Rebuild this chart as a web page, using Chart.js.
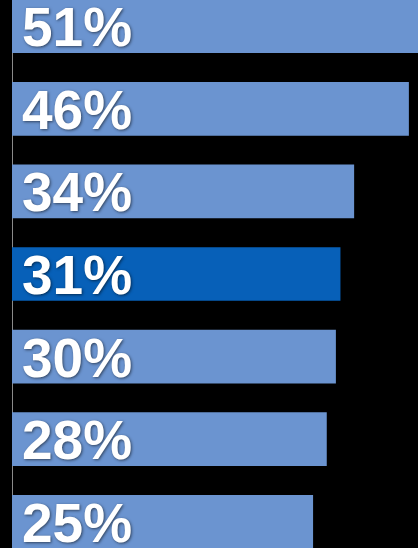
<!DOCTYPE html>
<html>
<head>
<meta charset="utf-8">
<script src="https://cdn.jsdelivr.net/npm/chart.js@4.4.1/dist/chart.umd.min.js"></script>
<style>
  html, body { margin: 0; padding: 0; background: #000; overflow: hidden; width: 418px; height: 548px; }
  #wrap { position: absolute; left: 0; top: -15px; width: 418px; height: 578px; }
</style>
</head>
<body>
<div id="wrap"><canvas id="grafica"></canvas></div>
<script>
// datos del gráfico
const categorias = ['A', 'B', 'C', 'D', 'E', 'F', 'G'];
const valores = [51, 46, 34, 31, 30, 28, 25];
const etiquetas = ['51%', '46%', '34%', '31%', '30%', '28%', '25%'];
const destacado = 3; // la barra en azul oscuro

// el eje no empieza en cero
const ejeMin = -41;
const ejeMax = 48;

const azulClaro = '#6b94d0';
const azulOscuro = '#0760b8';

// escribe el porcentaje dentro de cada barra, al inicio
const etiquetasPlugin = {
    id: 'etiquetas',
    afterDatasetsDraw(chart) {
        const ctx = chart.ctx;
        const meta = chart.getDatasetMeta(0);
        ctx.save();
        ctx.font = 'bold 55px "Liberation Sans", Arial, sans-serif';
        ctx.fillStyle = '#ffffff';
        ctx.textAlign = 'left';
        ctx.textBaseline = 'alphabetic';
        ctx.shadowColor = 'rgba(0,0,0,0.55)';
        ctx.shadowBlur = 3;
        ctx.shadowOffsetX = 1;
        ctx.shadowOffsetY = 1;
        meta.data.forEach((bar, i) => {
            ctx.fillText(etiquetas[i], bar.base + 10, bar.y + 20);
        });
        ctx.restore();
    }
};

new Chart(document.getElementById('grafica'), {
    type: 'bar',
    data: {
        labels: categorias,
        datasets: [{
            data: valores,
            base: ejeMin,
            backgroundColor: valores.map((v, i) => i === destacado ? azulOscuro : azulClaro),
            borderWidth: 0,
            categoryPercentage: 1,
            barPercentage: 0.65
        }]
    },
    options: {
        indexAxis: 'y',
        responsive: true,
        maintainAspectRatio: false,
        animation: false,
        layout: { padding: { left: 12, right: 0, top: 0, bottom: 0 } },
        plugins: { legend: { display: false }, tooltip: { enabled: false } },
        scales: {
            x: { display: false, min: ejeMin, max: ejeMax },
            y: {
                display: true,
                ticks: { display: false },
                grid: { display: false, drawTicks: false },
                border: { display: true, color: '#8a8a8a', width: 1 }
            }
        }
    },
    plugins: [etiquetasPlugin]
});
</script>
</body>
</html>
